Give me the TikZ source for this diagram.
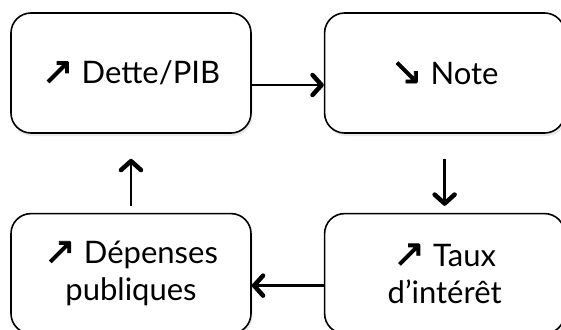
\documentclass[tikz,border=0pt]{standalone}
\usepackage{fontspec}
\setmainfont{Lato}
\newfontfamily\arrowfont{DejaVu Sans}[FakeBold=2]
\usetikzlibrary{arrows.meta,positioning,shadows}

\newcommand{\hausse}{{\arrowfont\fontsize{38}{38}\selectfont ↗}}
\newcommand{\baisse}{{\arrowfont\fontsize{38}{38}\selectfont ↘}}

\begin{document}
\begin{tikzpicture}[->,>={Straight Barb[length=9pt,width=20pt,line width=4.5pt 0,round]},
                    line width=2.4pt,node distance=79pt and 72pt,
                    etat/.style={draw,rounded corners=20pt,minimum width=240pt,minimum height=120pt,
                      align=center,line width=1.6pt,fill=white,inner sep=0pt,
                      drop shadow={opacity=0.18,shadow xshift=1.5pt,shadow yshift=-3pt},
                      font=\fontsize{31}{37}\selectfont}]

  \useasboundingbox (0,0) rectangle (561pt,-329pt);

  \node[etat] (dette) at (131pt,-73pt) {\hausse\ Dette/PIB};
  \node[etat] (note) [right=of dette] {\baisse\ Note};
  \node[etat] (taux) [below=of note] {\hausse\ Taux\\d’intérêt};
  \node[etat] (depenses) [below=of dette] {\hausse\ Dépenses\\publiques};

  \draw ([yshift=-12pt]dette.east) -- ([yshift=-12pt]note.west);
  \draw[shorten <=25pt,shorten >=7pt] (note) -- (taux);
  \draw ([yshift=-12pt]taux.west) -- ([yshift=-12pt]depenses.east);
  \draw[shorten <=7pt,shorten >=25pt] (depenses) -- (dette);
\end{tikzpicture}
\end{document}
